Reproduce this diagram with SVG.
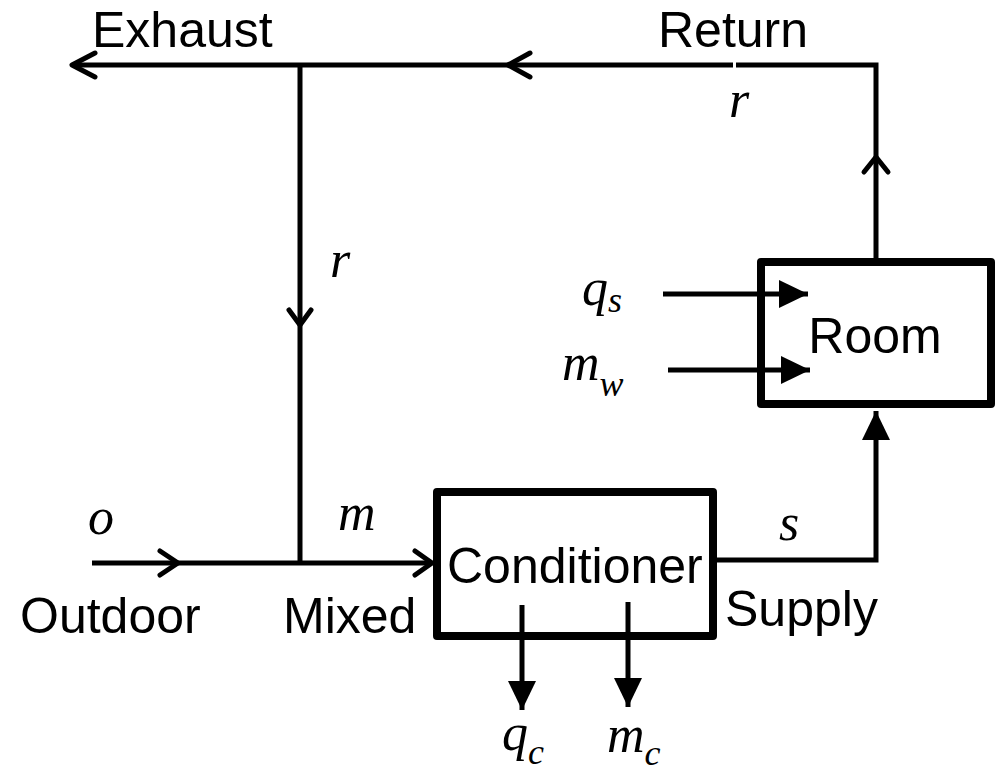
<svg xmlns="http://www.w3.org/2000/svg" width="1004" height="774" viewBox="0 0 1004 774">
<style>
.ln{fill:none;stroke:#000;stroke-width:5;stroke-linecap:butt;stroke-linejoin:miter}
.chev{fill:none;stroke:#000;stroke-width:5;stroke-linecap:round;stroke-linejoin:round}
.box{stroke:#000;stroke-width:8;stroke-linejoin:round}
.lbl{font-family:"Liberation Sans",Arial,sans-serif;font-size:50px;fill:#000}
.mth{font-family:"Liberation Serif","Times New Roman",serif;font-style:italic;font-size:52px;fill:#000}
.sub{font-size:36px}
</style>
<defs>
<marker id="tri" markerUnits="userSpaceOnUse" markerWidth="30" markerHeight="30" refX="29" refY="14" orient="auto">
<path d="M0,0 L29,14 L0,28 Z" fill="#000"/>
</marker>
</defs>
<g id="connectors">
<path class="ln" d="M876,258 V65 H736"/>
<path class="ln" d="M733,65 H74"/>
<path class="chev" d="M95,53 L72,65 L95,77"/>
<path class="chev" d="M530,53 L508,65 L530,77"/>
<path class="ln" d="M300,65 V563"/>
<path class="chev" d="M289,310 L300,325 L311,310"/>
<path class="chev" d="M864,172 L876,157 L888,172"/>
<path class="ln" d="M92,563 H431"/>
<path class="chev" d="M160,551 L178,563 L160,575"/>
<path class="chev" d="M415,551 L432,563 L415,575"/>
<path class="ln" d="M713,560 H876 V411" marker-end="url(#tri)"/>
<path class="ln" d="M663,294 H808" marker-end="url(#tri)"/>
<path class="ln" d="M668,370 H810" marker-end="url(#tri)"/>
<path class="ln" d="M522,605 V710" marker-end="url(#tri)"/>
<path class="ln" d="M628,602 V707" marker-end="url(#tri)"/>
</g>
<g id="room">
<rect class="box" x="761" y="262" width="230" height="142" fill="none"/>
<text class="lbl" x="875" y="353" text-anchor="middle">Room</text>
</g>
<g id="conditioner">
<rect class="box" x="437" y="492" width="276" height="144" fill="none"/>
<text class="lbl" x="447" y="583">Conditioner</text>
</g>
<g id="labels">
<text class="lbl" x="92" y="47">Exhaust</text>
<text class="lbl" x="658" y="47">Return</text>
<text class="lbl" x="20" y="633">Outdoor</text>
<text class="lbl" x="283" y="633">Mixed</text>
<text class="lbl" x="725" y="626">Supply</text>
<text class="mth" x="88" y="534">o</text>
<text class="mth" x="338" y="530">m</text>
<text class="mth" x="330" y="277">r</text>
<text class="mth" x="729" y="117">r</text>
<text class="mth" x="779" y="540">s</text>
<text class="mth" x="582" y="305">q<tspan class="sub" dy="7">s</tspan></text>
<text class="mth" x="562" y="380">m<tspan class="sub" dy="16">w</tspan></text>
<text class="mth" x="502" y="750">q<tspan class="sub" dy="14">c</tspan></text>
<text class="mth" x="607" y="752">m<tspan class="sub" dy="13">c</tspan></text>
</g>
</svg>
